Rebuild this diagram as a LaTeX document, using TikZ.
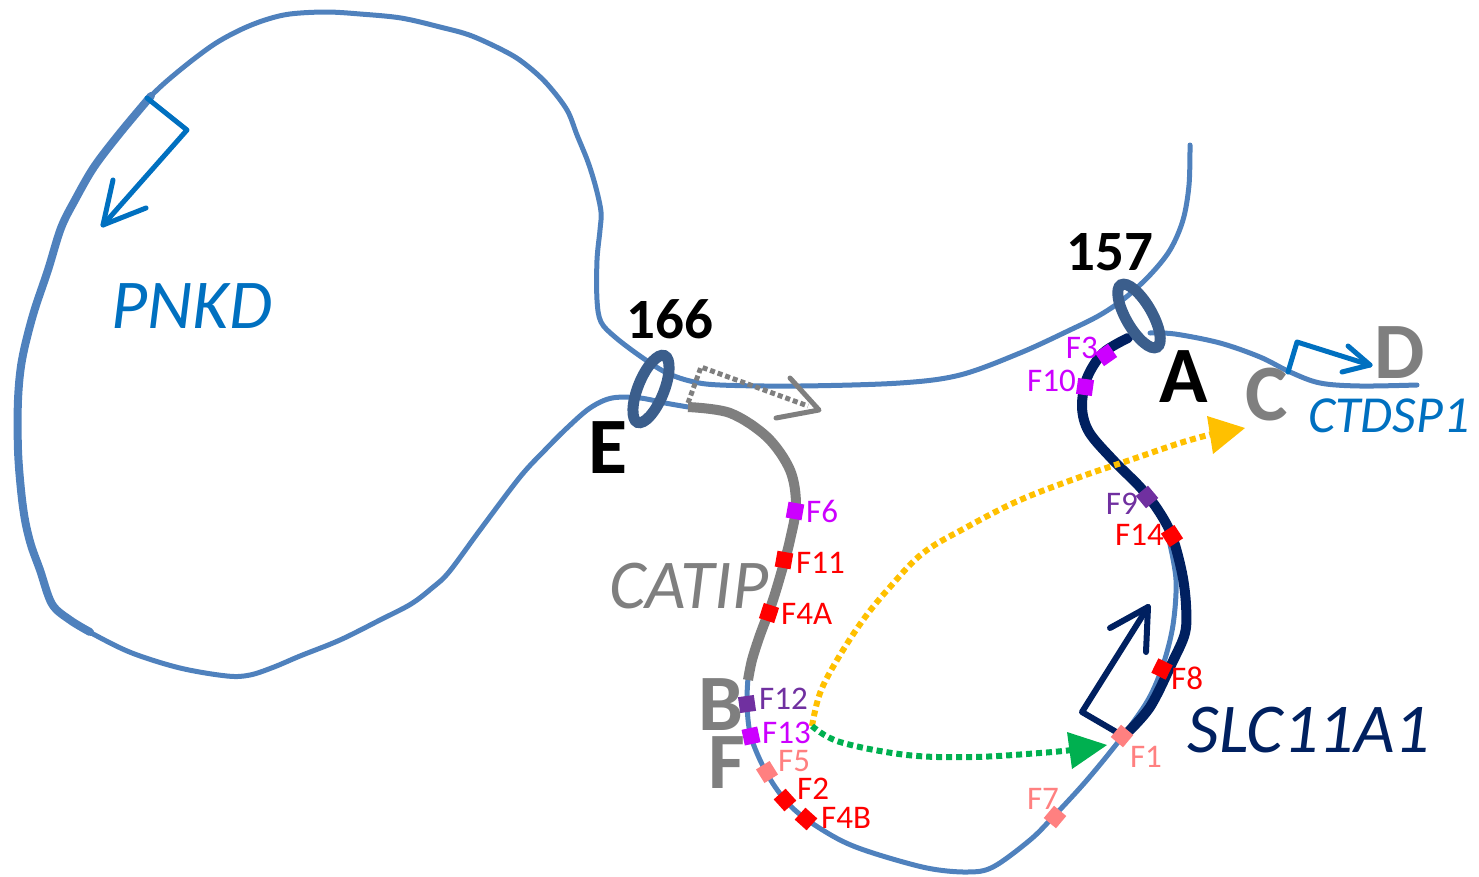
\documentclass[tikz,border=0pt]{standalone}
\usepackage{fontspec}
\setmainfont{Carlito}
\definecolor{lineblue}{RGB}{79,129,189}
\definecolor{ringblue}{RGB}{59,94,140}
\definecolor{genblue}{RGB}{0,112,192}
\definecolor{navyc}{RGB}{0,32,96}
\definecolor{gryc}{RGB}{127,127,127}
\definecolor{fred}{RGB}{255,0,0}
\definecolor{fmag}{RGB}{204,0,255}
\definecolor{fpur}{RGB}{112,48,160}
\definecolor{fpink}{RGB}{255,128,128}
\definecolor{ylw}{RGB}{255,192,0}
\definecolor{grn}{RGB}{0,176,80}
\tikzset{
  flab/.style={inner sep=0pt, font=\fontsize{33}{33}\selectfont},
  sqm/.style={draw=none, minimum size=16pt, inner sep=0pt},
  bigl/.style={inner sep=0pt, font=\bfseries\fontsize{80}{80}\selectfont},
  numl/.style={inner sep=0pt, font=\bfseries\fontsize{57}{57}\selectfont},
  genel/.style={inner sep=0pt, font=\itshape\fontsize{70}{70}\selectfont},
  bline/.style={draw=lineblue, line width=5pt, line cap=round, line join=round},
  ringst/.style={draw=ringblue, line width=11pt},
  openarr/.style={line width=5pt, line cap=round, line join=round},
  dotln/.style={line width=6pt, dash pattern=on 6pt off 4pt}
}
\begin{document}
\begin{tikzpicture}[x=1pt,y=-1pt]
\useasboundingbox (0,0) rectangle (1479,876);
% main blue line
\draw[bline] plot[smooth, tension=0.55] coordinates {(1190,145) (1189,185) (1183,220) (1170,250) (1150,275) (1125,298) (1100,315) (1070,330) (1020,353) (960,375) (900,383) (800,386) (720,385) (690,381) (665,372) (640,356) (615,337) (601,322) (597,300) (597,260) (600,230) (601,212) (596,188) (588,162) (577,135) (567,110) (548,85) (530,68) (510,54) (472,36) (440,27) (401,18) (360,14) (326,12) (290,14) (265,20) (240,30) (213,45) (180,70) (151,96) (120,133) (94,167) (75,200) (61,228) (48,270) (33,315) (22,360) (18,400) (18,450) (21,490) (25,520) (31,545) (40,570) (52,604) (70,620) (95,635) (132,653) (180,668) (227,676) (250,675) (274,667) (300,656) (340,640) (380,620) (411,604) (432,588) (449,572) (480,530) (520,477) (545,450) (567,428) (590,408) (612,398) (640,398) (665,403) (688,407)};
% thick part of PNKD loop
\draw[bline, line width=8pt] plot[smooth, tension=0.55] coordinates {(151,96) (120,133) (94,167) (75,200) (61,228) (48,270) (33,315) (22,360) (18,400) (18,450) (21,490) (25,520) (31,545) (40,570) (52,604) (70,620) (90,632)};
% CTDSP1 branch
\draw[bline] plot[smooth, tension=0.55] coordinates {(1150,333) (1175,334) (1220,343) (1260,357) (1290,372) (1320,383) (1360,386) (1417,385)};
% bottom branch
\draw[bline] plot[smooth, tension=0.55] coordinates {(748,678) (747,705) (751,737) (766,772) (785,800) (806,819) (840,840) (873,853) (927,868) (967,872) (993,867) (1030,840) (1053,817) (1087,780) (1122,737) (1148,700) (1163,665) (1173,625) (1176,580) (1169,540)};
% CATIP
\draw[draw=gryc, line width=10pt] plot[smooth, tension=0.55] coordinates {(688,407) (730,413) (767,437) (790,470) (796,505) (790,540) (782,570) (772,603) (760,635) (752,660) (748,680)};
% SLC11A1
\draw[draw=navyc, line width=10pt, line cap=round] plot[smooth, tension=0.55] coordinates {(1128,338) (1103,353) (1087,378) (1082,407) (1089,432) (1113,460) (1140,487) (1158,510) (1172,536) (1182,573) (1186,605) (1185,633) (1172,663) (1150,707) (1126,734)};
% rings
\node[coordinate] (r166) at (651,389) {};
\node[coordinate] (r157) at (1139,316) {};
\draw[ringst, rotate around={-22:(r166)}] (r166) ellipse [x radius=13pt, y radius=36pt];
\draw[ringst, rotate around={30:(r157)}] (r157) ellipse [x radius=13pt, y radius=36pt];
% PNKD arrow
\coordinate (pa0) at (147,98); \coordinate (pa1) at (187,130); \coordinate (pat) at (103,225);
\draw[openarr, genblue] (pa0) -- (pa1) -- (pat);
\draw[openarr, genblue] (113,180) -- (pat) -- (146,208);
% CTDSP1 arrow
\coordinate (ca0) at (1288,372); \coordinate (ca1) at (1297,342); \coordinate (cat) at (1370,365);
\draw[openarr, genblue] (ca0) -- (ca1) -- (cat);
\draw[openarr, genblue] (1348,346) -- (cat) -- (1342,372);
% SLC11A1 arrow
\coordinate (sa0) at (1118,733); \coordinate (sa1) at (1082,712); \coordinate (sat) at (1148,607);
\draw[openarr, navyc, line width=6pt] (sa0) -- (sa1) -- (sat);
\draw[openarr, navyc, line width=6pt] (1110,628) -- (sat) -- (1146,652);
% gray dotted arrow
\coordinate (ga0) at (688,403); \coordinate (ga1) at (701,367); \coordinate (gat) at (819,410);
\draw[draw=gryc, line width=5pt, dash pattern=on 5pt off 3pt] (ga0) -- (ga1) -- (808,406);
\draw[draw=gryc, openarr, line width=5pt] (790,378) -- (gat) -- (776,418);
% yellow dotted arrow
\coordinate (ys) at (812,726);
\coordinate (yt) at (1245,428);
\draw[ylw, dotln] plot[smooth, tension=0.6] coordinates {(ys) (820,693) (837,660) (863,620) (890,587) (923,553) (967,527) (1020,500) (1080,477) (1130,460) (1180,443) (1212,434)};
\fill[ylw] (yt) -- (1207,416) -- (1213,454) -- cycle;
% green dotted arrow
\coordinate (gt) at (1107,745);
\draw[grn, dotln] plot[smooth, tension=0.6] coordinates {(ys) (840,742) (907,755) (973,757) (1040,753) (1072,750)};
\fill[grn] (gt) -- (1067,732) -- (1072,769) -- cycle;
% marker squares
\node[sqm, fill=fmag, rotate=-10] (s6) at (795,511) {};
\node[sqm, fill=fred, rotate=-10] (s11) at (784,560) {};
\node[sqm, fill=fred, rotate=-18] (s4a) at (769,613) {};
\node[sqm, fill=fpur, rotate=8] (s12) at (747,704) {};
\node[sqm, fill=fmag, rotate=12] (s13) at (751,736) {};
\node[sqm, fill=fpink, rotate=32] (s5) at (767,772) {};
\node[sqm, fill=fred, rotate=42] (s2) at (785,800) {};
\node[sqm, fill=fred, rotate=48] (s4b) at (806,819) {};
\node[sqm, fill=fpink, rotate=-40] (s7) at (1055,817) {};
\node[sqm, fill=fpink, rotate=-40] (s1) at (1122,736) {};
\node[sqm, fill=fred, rotate=-26] (s8) at (1162,669) {};
\node[sqm, fill=fred, rotate=33] (s14) at (1172,536) {};
\node[sqm, fill=fpur, rotate=40] (s9) at (1147,497) {};
\node[sqm, fill=fmag, rotate=-8] (s10) at (1085,387) {};
\node[sqm, fill=fmag, rotate=-55] (s3) at (1106,355) {};
% F labels
\node[flab, fmag, anchor=west] (l6) at (806,511) {F6};
\node[flab, fred, anchor=west] (l11) at (796,563) {F11};
\node[flab, fred, anchor=west] (l4a) at (781,614) {F4A};
\node[flab, fpur, anchor=west] (l12) at (759,699) {F12};
\node[flab, fmag, anchor=west] (l13) at (762,733) {F13};
\node[flab, fpink, anchor=west] (l5) at (778,761) {F5};
\node[flab, fred, anchor=west] (l2) at (797,789) {F2};
\node[flab, fred, anchor=west] (l4b) at (821,818) {F4B};
\node[flab, fpink] (l7) at (1043,799) {F7};
\node[flab, fpink] (l1) at (1146,757) {F1};
\node[flab, fred, anchor=west] (l8) at (1171,678) {F8};
\node[flab, fred, anchor=east] (l14) at (1164,535) {F14};
\node[flab, fpur, anchor=east] (l9) at (1138,504) {F9};
\node[flab, fmag, anchor=east] (l10) at (1076,381) {F10};
\node[flab, fmag, anchor=east] (l3) at (1098,348) {F3};
% big letters and numbers
\node[numl] (n166) at (670,319) {166};
\node[numl] (n157) at (1110,252) {157};
\node[bigl] (la) at (1184,377) {A};
\node[bigl] (le) at (608,448) {E};
\node[bigl, gryc] (lb) at (721,705) {B};
\node[bigl, gryc] (lf) at (727,763) {F};
\node[bigl, gryc] (lc) at (1267,395) {C};
\node[bigl, gryc] (ld) at (1400,353) {D};
% gene names
\node[genel, genblue] (pnkd) at (192,306) {PNKD};
\node[genel, gryc] (catip) at (689,586) {CATIP};
\node[genel, navyc] (slc) at (1309,730) {SLC11A1};
\node[genel, genblue, font=\itshape\fontsize{52}{52}\selectfont] (ctd) at (1389,416) {CTDSP1};
\end{tikzpicture}
\end{document}
